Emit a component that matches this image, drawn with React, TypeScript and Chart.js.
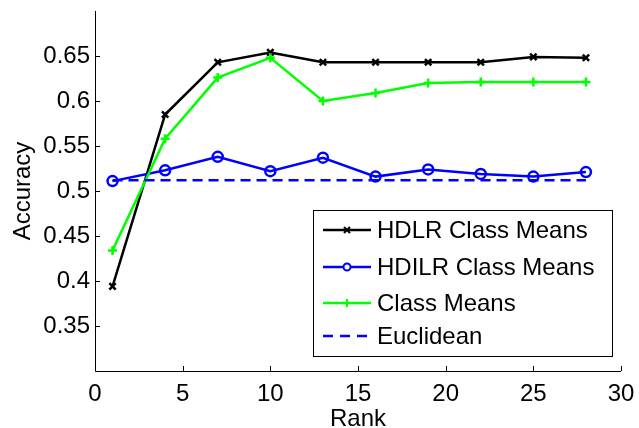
import React, { useEffect, useRef } from "react";
import { Chart, registerables } from "chart.js";

Chart.register(...registerables);

const rank = [1, 4, 7, 10, 13, 16, 19, 22, 25, 28];
const hdlrClassMeans = [0.394, 0.585, 0.643, 0.654, 0.643, 0.643, 0.643, 0.643, 0.649, 0.648];
const hdilrClassMeans = [0.511, 0.523, 0.538, 0.522, 0.537, 0.516, 0.524, 0.519, 0.516, 0.521];
const classMeans = [0.434, 0.558, 0.626, 0.648, 0.6, 0.609, 0.62, 0.621, 0.621, 0.621];
const euclidean = [0.512, 0.512, 0.512, 0.512, 0.512, 0.512, 0.512, 0.512, 0.512, 0.512];

const xTicks = [0, 5, 10, 15, 20, 25, 30];
const yTicks = [0.35, 0.4, 0.45, 0.5, 0.55, 0.6, 0.65];
const legendLabels = ["HDLR Class Means", "HDILR Class Means", "Class Means", "Euclidean"];

const FONT = '"Liberation Sans", Arial, Helvetica, sans-serif';

const toPts = (ys: number[]) => rank.map((x, i) => ({ x, y: ys[i] }));

const decorPlugin = {
  id: "decor",
  afterDraw(chart: any) {
    const { ctx, chartArea, scales } = chart;
    const xs = scales.x;
    const ys = scales.y;
    ctx.save();
    // axes
    ctx.strokeStyle = "#000";
    ctx.lineWidth = 1;
    ctx.setLineDash([]);
    ctx.beginPath();
    ctx.moveTo(chartArea.left + 0.5, chartArea.top);
    ctx.lineTo(chartArea.left + 0.5, chartArea.bottom + 0.5);
    ctx.lineTo(chartArea.right, chartArea.bottom + 0.5);
    ctx.stroke();
    // ticks (inward)
    ctx.beginPath();
    xTicks.forEach((v) => {
      const px = Math.round(xs.getPixelForValue(v)) + 0.5;
      ctx.moveTo(px, chartArea.bottom);
      ctx.lineTo(px, chartArea.bottom - 5);
    });
    yTicks.forEach((v) => {
      const py = Math.round(ys.getPixelForValue(v)) + 0.5;
      ctx.moveTo(chartArea.left, py);
      ctx.lineTo(chartArea.left + 5, py);
    });
    ctx.stroke();
    // titles
    ctx.fillStyle = "#000";
    ctx.font = `24px ${FONT}`;
    ctx.textAlign = "center";
    ctx.textBaseline = "alphabetic";
    ctx.fillText("Rank", (chartArea.left + chartArea.right) / 2, 426);
    ctx.save();
    ctx.translate(30, (chartArea.top + chartArea.bottom) / 2);
    ctx.rotate(-Math.PI / 2);
    ctx.fillText("Accuracy", 0, 0);
    ctx.restore();

    // legend
    const bx = 313, by = 210, bw = 299, bh = 146;
    ctx.fillStyle = "#fff";
    ctx.fillRect(bx, by, bw, bh);
    ctx.strokeStyle = "#000";
    ctx.lineWidth = 1;
    ctx.strokeRect(bx + 0.5, by + 0.5, bw, bh);
    const rowsY = [230, 267, 303, 336];
    const colors = ["#000000", "#0000ff", "#00ff00", "#0000ff"];
    legendLabels.forEach((label, i) => {
      const y = rowsY[i];
      ctx.strokeStyle = colors[i];
      ctx.lineWidth = 2.5;
      ctx.setLineDash(i === 3 ? [10, 7] : []);
      ctx.beginPath();
      ctx.moveTo(323, y);
      ctx.lineTo(371, y);
      ctx.stroke();
      ctx.setLineDash([]);
      const cx = 347;
      ctx.lineWidth = 2;
      if (i === 0) {
        ctx.beginPath();
        ctx.moveTo(cx - 3, y - 3); ctx.lineTo(cx + 3, y + 3);
        ctx.moveTo(cx - 3, y + 3); ctx.lineTo(cx + 3, y - 3);
        ctx.stroke();
      } else if (i === 1) {
        ctx.beginPath();
        ctx.arc(cx, y, 3.5, 0, Math.PI * 2);
        ctx.fillStyle = "#fff";
        ctx.fill();
        ctx.stroke();
      } else if (i === 2) {
        ctx.beginPath();
        ctx.moveTo(cx - 4, y); ctx.lineTo(cx + 4, y);
        ctx.moveTo(cx, y - 4); ctx.lineTo(cx, y + 4);
        ctx.stroke();
      }
      ctx.fillStyle = "#000";
      ctx.font = `24px ${FONT}`;
      ctx.textAlign = "left";
      ctx.textBaseline = "middle";
      ctx.fillText(label, 377, y + 1);
    });
    ctx.restore();
  },
};

export default function App() {
  const canvasRef = useRef<HTMLCanvasElement | null>(null);

  useEffect(() => {
    if (!canvasRef.current) return;
    const chart = new Chart(canvasRef.current, {
      type: "line",
      data: {
        datasets: [
          {
            label: "Euclidean",
            data: toPts(euclidean),
            borderColor: "#0000ff",
            borderWidth: 2.5,
            borderDash: [10, 6],
            pointRadius: 0,
            fill: false,
          },
          {
            label: "Class Means",
            data: toPts(classMeans),
            borderColor: "#00ff00",
            borderWidth: 2.5,
            pointStyle: "cross",
            pointRadius: 4.5,
            pointBorderWidth: 2.5,
            pointBorderColor: "#00ff00",
            pointBackgroundColor: "#00ff00",
            fill: false,
          },
          {
            label: "HDILR Class Means",
            data: toPts(hdilrClassMeans),
            borderColor: "#0000ff",
            borderWidth: 2.5,
            pointStyle: "circle",
            pointRadius: 5,
            pointBorderWidth: 2.5,
            pointBorderColor: "#0000ff",
            pointBackgroundColor: "rgba(0,0,0,0)",
            fill: false,
          },
          {
            label: "HDLR Class Means",
            data: toPts(hdlrClassMeans),
            borderColor: "#000000",
            borderWidth: 2.5,
            pointStyle: "crossRot",
            pointRadius: 4.5,
            pointBorderWidth: 2.5,
            pointBorderColor: "#000000",
            fill: false,
          },
        ],
      },
      options: {
        animation: false,
        responsive: true,
        maintainAspectRatio: false,
        layout: { padding: { top: 11, right: 18, left: 0, bottom: 0 } },
        plugins: {
          legend: { display: false },
          tooltip: { enabled: false },
        },
        elements: { line: { tension: 0 } },
        scales: {
          x: {
            type: "linear",
            min: 0,
            max: 30,
            grid: { display: false, drawTicks: false },
            border: { display: false },
            ticks: {
              stepSize: 5,
              padding: 9,
              color: "#000",
              font: { family: FONT, size: 24 },
              maxRotation: 0,
            },
            afterFit: (s: any) => {
              s.height = 57;
              s.paddingLeft = 0;
              s.paddingRight = 0;
            },
          },
          y: {
            type: "linear",
            min: 0.3,
            max: 0.7,
            grid: { display: false, drawTicks: false },
            border: { display: false },
            ticks: {
              stepSize: 0.05,
              padding: 5,
              color: "#000",
              font: { family: FONT, size: 24 },
              callback: (v: any) => {
                const n = Math.round(Number(v) * 100) / 100;
                if (n <= 0.3 || n >= 0.7) return "";
                return String(n);
              },
            },
            afterFit: (s: any) => {
              s.width = 95;
              s.paddingTop = 0;
              s.paddingBottom = 0;
            },
          },
        },
      },
      plugins: [decorPlugin],
    });
    return () => chart.destroy();
  }, []);

  return (
    <div style={{ position: "fixed", left: 0, top: 0, width: 639, height: 428, background: "#fff" }}>
      <canvas ref={canvasRef} />
    </div>
  );
}
